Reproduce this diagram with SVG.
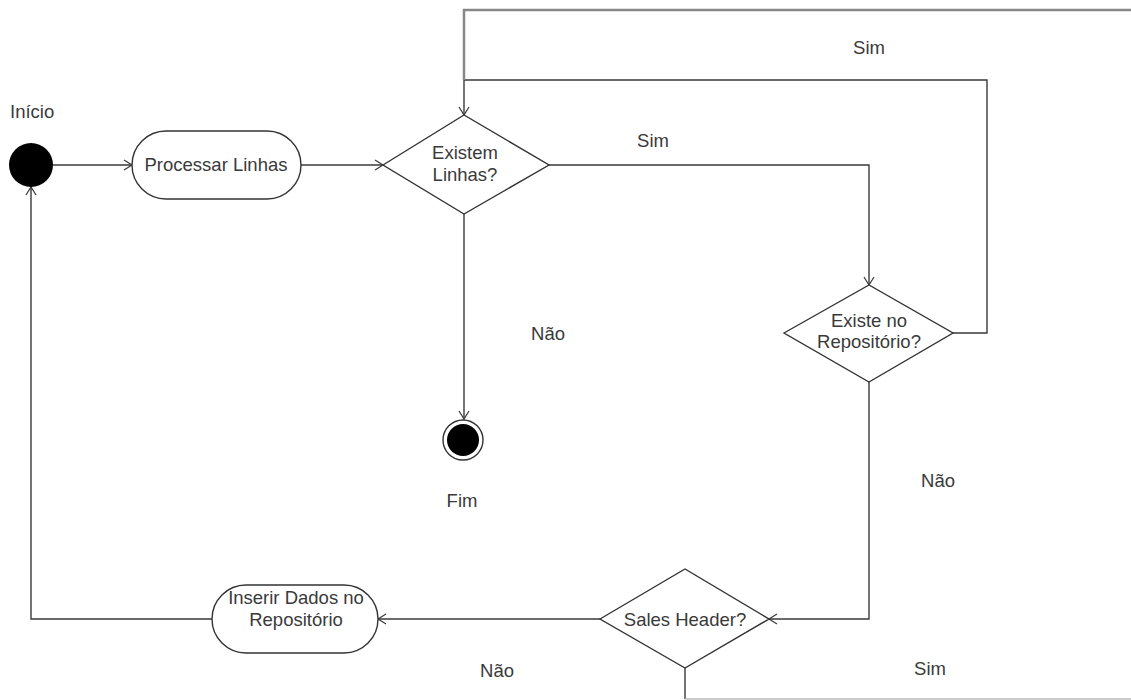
<svg xmlns="http://www.w3.org/2000/svg" width="1131" height="700" viewBox="0 0 1131 700">
<style>
.t{font-family:"Liberation Sans",Arial,sans-serif;font-size:18.5px;fill:#3a3a3a}
.m{text-anchor:middle}
.n{fill:#fff;stroke:#333;stroke-width:1.4}
.c{fill:none;stroke:#3a3a3a;stroke-width:1.4}
.g{fill:none;stroke:#888;stroke-width:2.5}
.lg{fill:none;stroke:#bbb;stroke-width:1.5}
</style>
<defs>
<marker id="a" markerWidth="12" markerHeight="12" refX="9" refY="6" orient="auto" markerUnits="userSpaceOnUse">
<path d="M1,1 L9,6 L1,11" fill="none" stroke="#3a3a3a" stroke-width="1.2"/>
</marker>
</defs>
<rect width="1131" height="700" fill="#fff"/>
<g id="connectors">
<line class="c" x1="53" y1="165" x2="132" y2="165" marker-end="url(#a)"/>
<line class="c" x1="301" y1="165" x2="383" y2="165" marker-end="url(#a)"/>
<polyline class="c" points="549,165 869,165 869,285" marker-end="url(#a)"/>
<polyline class="c" points="953,333 987,333 987,80 464,80"/>
<line class="c" x1="464" y1="80" x2="464" y2="115" marker-end="url(#a)"/>
<polyline class="g" points="1131,10 464,10 464,80"/>
<line class="c" x1="464" y1="214" x2="464" y2="419" marker-end="url(#a)"/>
<polyline class="c" points="869,382 869,619 769,619" marker-end="url(#a)"/>
<line class="c" x1="600" y1="619" x2="378" y2="619" marker-end="url(#a)"/>
<polyline class="c" points="212,619 31,619 31,187" marker-end="url(#a)"/>
<polyline class="c" points="685,668 685,699"/>
<line class="lg" x1="685" y1="699" x2="1131" y2="699"/>
</g>
<g id="inicio">
<circle cx="31" cy="165" r="22" fill="#000"/>
<text class="t" x="10" y="118">Início</text>
</g>
<g id="processar">
<rect class="n" x="132" y="131" width="169" height="68" rx="34"/>
<text class="t m" x="216" y="171">Processar Linhas</text>
</g>
<g id="existem">
<polygon class="n" points="383,165 464,115 549,165 464,214"/>
<text class="t m" x="465" y="159">Existem</text>
<text class="t m" x="465" y="181">Linhas?</text>
</g>
<g id="repositorio">
<polygon class="n" points="784,333 869,285 953,333 869,382"/>
<text class="t m" x="869" y="327">Existe no</text>
<text class="t m" x="869" y="348">Repositório?</text>
</g>
<g id="sales">
<polygon class="n" points="600,619 685,569 769,619 685,668"/>
<text class="t m" x="685" y="626">Sales Header?</text>
</g>
<g id="inserir">
<rect class="n" x="212" y="585" width="166" height="68" rx="34"/>
<text class="t m" x="296" y="604">Inserir Dados no</text>
<text class="t m" x="296" y="626">Repositório</text>
</g>
<g id="fim">
<circle cx="463" cy="440" r="20" fill="#fff" stroke="#333" stroke-width="1.4"/>
<circle cx="463" cy="440" r="16" fill="#000"/>
<text class="t m" x="462" y="507">Fim</text>
</g>
<g id="labels">
<text class="t m" x="653" y="147">Sim</text>
<text class="t m" x="869" y="54">Sim</text>
<text class="t m" x="548" y="340">Não</text>
<text class="t m" x="938" y="487">Não</text>
<text class="t m" x="497" y="677">Não</text>
<text class="t m" x="930" y="675">Sim</text>
</g>
</svg>
